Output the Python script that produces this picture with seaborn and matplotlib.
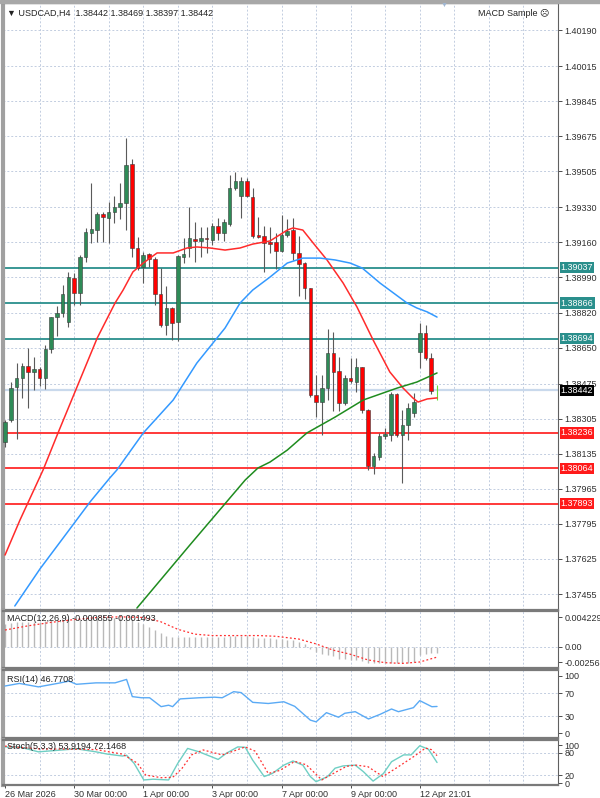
import numpy as np
import matplotlib
matplotlib.use("Agg")
import matplotlib.pyplot as plt
from matplotlib.patches import Rectangle
import seaborn as sns

# ---------------- datos ----------------
opens = [1.38194, 1.38299, 1.38460, 1.38501, 1.38562, 1.38530, 1.38545, 1.38504, 1.38641, 1.38800,
         1.38816, 1.38772, 1.38986, 1.38913, 1.39088, 1.39207, 1.39220, 1.39298, 1.39277, 1.39306,
         1.39330, 1.39350, 1.39539, 1.39134, 1.39042, 1.39102, 1.39078, 1.38908, 1.38761, 1.38840,
         1.38774, 1.39091, 1.39134, 1.39175, 1.39168, 1.39180, 1.39172, 1.39241, 1.39204, 1.39249,
         1.39422, 1.39385, 1.39459, 1.39382, 1.39196, 1.39191, 1.39164, 1.39160, 1.39120, 1.39196,
         1.39220, 1.39110, 1.39059, 1.38937, 1.38420, 1.38388, 1.38452, 1.38622, 1.38538, 1.38383,
         1.38504, 1.38485, 1.38554, 1.38347, 1.38076, 1.38121, 1.38221, 1.38226, 1.38425, 1.38226,
         1.38275, 1.38331, 1.38630, 1.38719, 1.38598, 1.38442]
highs = [1.38299, 1.38485, 1.38574, 1.38574, 1.38650, 1.38606, 1.38557, 1.38662, 1.38800, 1.38852,
         1.38953, 1.39018, 1.39013, 1.39099, 1.39228, 1.39446, 1.39309, 1.39309, 1.39358, 1.39385,
         1.39446, 1.39665, 1.39563, 1.39185, 1.39115, 1.39110, 1.39091, 1.39038, 1.38949, 1.38845,
         1.39099, 1.39180, 1.39330, 1.39261, 1.39236, 1.39236, 1.39253, 1.39277, 1.39274, 1.39487,
         1.39503, 1.39476, 1.39471, 1.39422, 1.39285, 1.39240, 1.39233, 1.39204, 1.39293, 1.39272,
         1.39277, 1.39191, 1.39067, 1.38937, 1.38517, 1.38517, 1.38738, 1.38727, 1.38603, 1.38517,
         1.38598, 1.38598, 1.38557, 1.38351, 1.38137, 1.38234, 1.38258, 1.38436, 1.38431, 1.38347,
         1.38380, 1.38428, 1.38771, 1.38760, 1.38622, 1.38469]
lows = [1.38170, 1.38291, 1.38205, 1.38404, 1.38355, 1.38444, 1.38465, 1.38448, 1.38622, 1.38706,
        1.38797, 1.38748, 1.38857, 1.38857, 1.39067, 1.39159, 1.39164, 1.39164, 1.39159, 1.39253,
        1.39272, 1.39220, 1.39091, 1.39026, 1.38965, 1.39042, 1.38857, 1.38751, 1.38711, 1.38687,
        1.38684, 1.39059, 1.39091, 1.39067, 1.39091, 1.39107, 1.39147, 1.39172, 1.39168, 1.39240,
        1.39414, 1.39277, 1.39382, 1.39180, 1.39180, 1.39018, 1.39110, 1.39029, 1.39115, 1.39188,
        1.39075, 1.38902, 1.38884, 1.38412, 1.38312, 1.38226, 1.38396, 1.38344, 1.38344, 1.38372,
        1.38477, 1.38436, 1.38331, 1.38056, 1.38037, 1.38105, 1.38205, 1.38199, 1.38218, 1.37992,
        1.38202, 1.38315, 1.38549, 1.38590, 1.38425, 1.38397]
closes = [1.38291, 1.38456, 1.38501, 1.38562, 1.38530, 1.38545, 1.38501, 1.38641, 1.38797, 1.38816,
          1.38910, 1.38994, 1.38913, 1.39091, 1.39211, 1.39223, 1.39296, 1.39282, 1.39309, 1.39333,
          1.39353, 1.39535, 1.39134, 1.39038, 1.39099, 1.39078, 1.38908, 1.38761, 1.38840, 1.38768,
          1.39094, 1.39102, 1.39180, 1.39168, 1.39180, 1.39175, 1.39241, 1.39204, 1.39257, 1.39422,
          1.39459, 1.39459, 1.39385, 1.39191, 1.39185, 1.39159, 1.39152, 1.39120, 1.39196, 1.39217,
          1.39110, 1.39055, 1.38941, 1.38420, 1.38388, 1.38452, 1.38622, 1.38533, 1.38383, 1.38504,
          1.38490, 1.38554, 1.38347, 1.38076, 1.38124, 1.38221, 1.38231, 1.38425, 1.38226, 1.38275,
          1.38355, 1.38388, 1.38719, 1.38598, 1.38441, 1.38442]

# medias moviles (posicion en barras, precio)
ma_red_bar = [0, 2.6, 6.6, 9.2, 16, 19.1, 20.5, 22.2, 24, 26.4, 29.2, 31.6, 33.3, 35.6, 38.2, 40.8,
              43, 46, 49, 50, 51.7, 53.5, 55.9, 58.7, 61.1, 63.9, 66.8, 69.1, 70.8, 71.7, 73.3, 75]
ma_red_val = [1.37644, 1.37814, 1.38056, 1.38236, 1.38696, 1.38866, 1.38929, 1.39017, 1.39060,
              1.39109, 1.39109, 1.39133, 1.39138, 1.39133, 1.39123, 1.39133, 1.39152, 1.39167,
              1.39220, 1.39230, 1.39220, 1.39157, 1.39075, 1.38963, 1.38847, 1.38687, 1.38532,
              1.38454, 1.38406, 1.38386, 1.38401, 1.38406]
ma_blue_bar = [1.7, 6.1, 11.3, 14.8, 18.2, 19.4, 24, 29.2, 33.3, 38.2, 40.8, 43, 46, 49, 51.7,
               54.7, 57.3, 59.9, 62, 65.1, 69.8, 71.5, 73.3, 75]
ma_blue_val = [1.37397, 1.37578, 1.37772, 1.37903, 1.38018, 1.38056, 1.38236, 1.38396, 1.38575,
               1.38745, 1.38866, 1.38929, 1.38992, 1.39060, 1.39084, 1.39084, 1.39075, 1.39060,
               1.39036, 1.38963, 1.38866, 1.38842, 1.38823, 1.38798]
ma_green_bar = [22.9, 32.1, 41.7, 43.9, 46, 49, 52.4, 57.3, 62.2, 68.1, 71.5, 75]
ma_green_val = [1.37387, 1.37693, 1.38008, 1.38066, 1.38095, 1.38153, 1.38236, 1.38313, 1.38396,
                1.38454, 1.38483, 1.38527]

# niveles horizontales
teal_levels = [1.39037, 1.38866, 1.38694]
red_levels = [1.38236, 1.38064, 1.37893]
last_price = 1.38442

price_ticks = [1.40190, 1.40015, 1.39845, 1.39675, 1.39505, 1.39330, 1.39160, 1.38990, 1.38820,
               1.38650, 1.38475, 1.38305, 1.38135, 1.37965, 1.37795, 1.37625, 1.37455]

# MACD(12,26,9)
macd_hist = [0.0033, 0.0034, 0.0035, 0.0036, 0.0036, 0.0036, 0.0036, 0.0037, 0.0038, 0.0038,
             0.0039, 0.0040, 0.0040, 0.0040, 0.0041, 0.0041, 0.0041, 0.0041, 0.0041, 0.0041,
             0.0041, 0.0042, 0.0040, 0.0036, 0.0032, 0.0028, 0.0024, 0.0019, 0.0016, 0.0014,
             0.0014, 0.0014, 0.0014, 0.0014, 0.0014, 0.0014, 0.0014, 0.0014, 0.0014, 0.0015,
             0.0015, 0.0016, 0.0015, 0.0014, 0.0013, 0.0013, 0.0012, 0.0011, 0.0011, 0.0010,
             0.0009, 0.0007, 0.0004, -0.0003, -0.0008, -0.0011, -0.0012, -0.0014, -0.0017, -0.0018,
             -0.0019, -0.0019, -0.0021, -0.0023, -0.0024, -0.0024, -0.0024, -0.0023, -0.0023, -0.0024,
             -0.0023, -0.0022, -0.0012, -0.0010, -0.0009, -0.00086]
macd_sig_bar = [0, 4, 8, 12, 16, 20, 24, 27, 30, 33, 36, 40, 44, 47, 51, 54, 57, 60, 63, 66, 69, 72, 75]
macd_sig_val = [0.0024, 0.0030, 0.0035, 0.0039, 0.0042, 0.0043, 0.0042, 0.0036, 0.0025, 0.0018,
                0.0016, 0.0016, 0.0016, 0.0015, 0.0011, 0.0004, -0.0005, -0.0011, -0.0019, -0.0023,
                -0.0024, -0.0022, -0.0015]

# RSI(14)
rsi_bar = [0, 2.5, 5.8, 9.1, 11.1, 12.4, 15.8, 19.1, 21.1, 22.1, 23.7, 25.1, 27.1, 28.4, 29.1,
           30.4, 33.7, 36.4, 37.7, 39.7, 41, 43, 45.7, 48.4, 50.3, 53, 54, 55.8, 57.9, 59, 60.8,
           63.1, 65.1, 67.1, 68.3, 70.9, 72, 74.1, 75]
rsi_val = [82.5, 87, 81, 87, 91, 85.5, 88, 88, 94, 64, 62, 62, 46.5, 49, 46.5, 60, 62, 63, 62,
           72.6, 71, 54, 52, 55, 47, 23, 20, 36, 28, 35, 37.7, 25, 33, 42.4, 37.7, 44.7, 57, 46.4, 46.8]

# Stoch(5,3,3)
st_bar = [0, 2.5, 5.8, 9.1, 12.4, 15.8, 17.8, 20.4, 21.1, 22.4, 24.1, 25.7, 28.4, 30, 31.7, 33.7,
          37, 38.4, 40.4, 41.7, 43, 45, 46.4, 48.4, 50, 51.7, 53, 54, 56, 57.3, 58.7, 60.8, 62.2,
          63.9, 65.7, 67.1, 69.2, 70.5, 72, 73.5, 75]
st_main = [95, 95, 82, 86, 90, 82, 76, 71, 73, 52, 8, 10, 8, 52, 91, 82, 62, 78, 95, 94, 60, 17,
           25, 47, 58, 47, 17, 3.5, 17, 39, 45, 47, 30, 5, 25, 56, 74, 74, 98, 89, 54]
st_sig_bar = [0, 5.8, 15.8, 20.4, 23, 24.4, 27.1, 29.1, 30.7, 32.4, 34.4, 37.7, 39.7, 41.7, 43.4,
              45.7, 47.7, 50.3, 52.3, 55, 57, 59.3, 61, 63, 65.6, 68.3, 71, 73, 74, 75]
st_sig = [97, 90, 88, 76, 52, 21, 14, 15, 38, 74, 87, 74, 84, 95, 84, 25, 33, 57, 48, 8, 25, 44,
          47, 43, 17, 43, 70, 92, 88, 72]

date_ticks = [0, 12, 24, 36, 48, 60, 72]
date_labels = ['26 Mar 2026', '30 Mar 00:00', '1 Apr 00:00', '3 Apr 00:00',
               '7 Apr 00:00', '9 Apr 00:00', '12 Apr 21:01']

# ---------------- estilo ----------------
sns.set_theme(style='white')
plt.rcParams['font.family'] = ['Liberation Sans', 'DejaVu Sans']
plt.rcParams['font.size'] = 6.5

GRID = '#c2cde0'
FS = 6.5
W, H = 600, 798

fig = plt.figure(figsize=(6, 7.98), dpi=100, facecolor='white')


def box(y0, y1):
    # y0, y1 en pixeles desde arriba
    return [3 / W, 1 - y1 / H, 555 / W, (y1 - y0) / H]


ax = fig.add_axes(box(3, 609.5))
ax_macd = fig.add_axes(box(610.5, 668))
ax_rsi = fig.add_axes(box(669.5, 737.5))
ax_st = fig.add_axes(box(739.5, 785))

XMIN, XMAX = -0.35, 96.0
vgrid = np.arange(6, 96, 6)

for a in [ax, ax_macd, ax_rsi, ax_st]:
    a.set_xlim(XMIN, XMAX)
    a.set_facecolor('white')
    for x in vgrid:
        a.axvline(x, color=GRID, lw=0.7, ls=(0, (2, 2)), zorder=0)
    for s in ['top', 'bottom']:
        a.spines[s].set_color('#7a7a7a')
        a.spines[s].set_linewidth(1.6)
    a.spines['left'].set_color('#a0a0a0')
    a.spines['left'].set_linewidth(3)
    a.spines['right'].set_color('#606060')
    a.spines['right'].set_linewidth(0.8)
    a.yaxis.tick_right()
    a.tick_params(axis='y', which='both', right=True, left=False, length=3, width=0.6,
                  pad=1.5, labelsize=FS, colors='#303030')
    a.tick_params(axis='x', bottom=False, labelbottom=False)

# ---------------- panel principal ----------------
ax.set_ylim(1.37380, 1.40321)
ax.set_yticks(price_ticks)
ax.set_yticklabels(['%.5f' % v for v in price_ticks])
for v in price_ticks:
    ax.axhline(v, color=GRID, lw=0.7, ls=(0, (2, 2)), zorder=0)

ax.axhline(last_price, color='#c9d9ec', lw=1.6, zorder=1)
for v in teal_levels:
    ax.axhline(v, color='#2a8f8c', lw=1.3, zorder=2)
for v in red_levels:
    ax.axhline(v, color='#ff2a2a', lw=1.3, zorder=2)

o = np.array(opens)
h = np.array(highs)
l = np.array(lows)
c = np.array(closes)
xs = np.arange(len(o))
bull = c >= o
wick_col = ['#5a5a5a'] * len(o)
wick_col[-1] = '#66dd33'
ax.vlines(xs, l, h, colors=wick_col, lw=0.8, zorder=3)
body_bot = np.minimum(o, c)
body_h = np.maximum(np.abs(c - o), 0.00003)
body_col = ['#2e8b57' if b else '#ff0000' for b in bull]
ax.bar(xs[:-1], body_h[:-1], bottom=body_bot[:-1], width=0.62, color=body_col[:-1],
       edgecolor='#3a3a3a', linewidth=0.4, zorder=4)

sns.lineplot(x=ma_red_bar, y=ma_red_val, ax=ax, color='#ff2b2b', lw=1.1, zorder=5)
sns.lineplot(x=ma_blue_bar, y=ma_blue_val, ax=ax, color='#3399ff', lw=1.1, zorder=5)
sns.lineplot(x=ma_green_bar, y=ma_green_val, ax=ax, color='#1f8c1f', lw=1.1, zorder=5)


def tag(a, v, fc):
    a.annotate('%.5f' % v, xy=(1.0, v), xycoords=('axes fraction', 'data'),
               xytext=(2, 0), textcoords='offset points', ha='left', va='center',
               fontsize=FS, color='white', annotation_clip=False, zorder=20,
               bbox=dict(boxstyle='square,pad=0.12', fc=fc, ec='none'))


for v in teal_levels:
    tag(ax, v, '#2a8f8c')
for v in red_levels:
    tag(ax, v, '#ff1a1a')
tag(ax, last_price, '#000000')

# ---------------- MACD ----------------
ax_macd.set_ylim(-0.003063, 0.005206)
ax_macd.vlines(xs, 0, macd_hist, colors='#b9b9b9', lw=1.0, zorder=2)
sns.lineplot(x=macd_sig_bar, y=macd_sig_val, ax=ax_macd, color='#ff3030', lw=0.9,
             ls=(0, (1.5, 1.8)), zorder=3)
ax_macd.axhline(0, color=GRID, lw=0.7, ls=(0, (2, 2)), zorder=0)
ax_macd.set_yticks([0.004228, 0.0, -0.00224])
ax_macd.set_yticklabels(['0.004229', '0.00', '-0.002561'])
ax_macd.text(0.007, 0.86, 'MACD(12,26,9) -0.000855 -0.001493', transform=ax_macd.transAxes,
             fontsize=FS, color='#222222', va='center', zorder=10)

# ---------------- RSI ----------------
ax_rsi.set_ylim(-7.33, 111.3)
for v in [70, 30]:
    ax_rsi.axhline(v, color=GRID, lw=0.7, ls=(0, (2, 2)), zorder=0)
sns.lineplot(x=rsi_bar, y=rsi_val, ax=ax_rsi, color='#5aaaf5', lw=1.0, zorder=3)
ax_rsi.set_yticks([100, 70, 30, 0])
ax_rsi.set_yticklabels(['100', '70', '30', '0'])
ax_rsi.text(0.007, 0.85, 'RSI(14) 46.7708', transform=ax_rsi.transAxes,
            fontsize=FS, color='#222222', va='center', zorder=10)

# ---------------- Stoch ----------------
ax_st.set_ylim(-5.26, 114.5)
for v in [80, 20]:
    ax_st.axhline(v, color=GRID, lw=0.7, ls=(0, (2, 2)), zorder=0)
sns.lineplot(x=st_bar, y=st_main, ax=ax_st, color='#6fcfc4', lw=1.0, zorder=3)
sns.lineplot(x=st_sig_bar, y=st_sig, ax=ax_st, color='#ff3030', lw=0.9,
             ls=(0, (1.5, 1.8)), zorder=4)
ax_st.set_yticks([100, 80, 20, 0])
ax_st.set_yticklabels(['100', '80', '20', '0'])
ax_st.text(0.007, 0.84, 'Stoch(5,3,3) 53.9194 72.1468', transform=ax_st.transAxes,
           fontsize=FS, color='#222222', va='center', zorder=10)

ax_st.set_xticks(date_ticks)
ax_st.set_xticklabels(date_labels, ha='left')
ax_st.tick_params(axis='x', bottom=True, labelbottom=True, length=2, width=0.6, pad=1.5,
                  labelsize=FS, colors='#303030')

for a in [ax, ax_macd, ax_rsi, ax_st]:
    a.set_xlabel('')
    a.set_ylabel('')

# ---------------- cabecera ----------------
fig.patches.append(Rectangle((0, 1 - 2.5 / H), 1, 2.5 / H, transform=fig.transFigure,
                             color='#a8a8a8', zorder=0))
fig.text(7 / W, 1 - 13 / H, '\u25bc USDCAD,H4  1.38442 1.38469 1.38397 1.38442',
         fontsize=FS, color='#222222', va='center')
fig.text(549 / W, 1 - 13 / H, 'MACD Sample \u2639', fontsize=FS, color='#222222',
         va='center', ha='right')
fig.text(444 / W, 1 - 5 / H, '\u25bc', fontsize=5, color='#9fb6d2', va='center', ha='center')

fig.savefig('out.png', dpi=100, facecolor='white')
